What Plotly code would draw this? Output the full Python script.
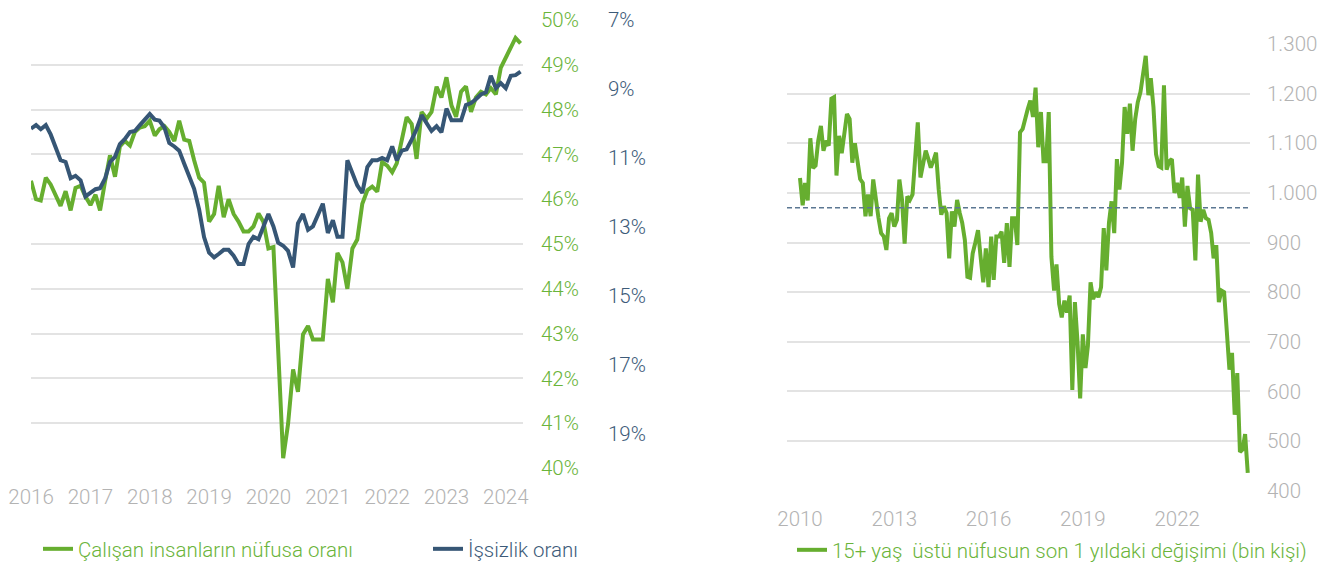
import pandas as pd
import plotly.graph_objects as go

# ---------------- data ----------------
# Left chart: monthly, 2016-01 .. 2024-04
left_months = pd.date_range("2016-01-01", periods=100, freq="MS")
employment_rate = [
    46.41, 46.0, 45.97, 46.48, 46.33, 46.1, 45.85, 46.18, 45.75, 46.25,
    46.3, 46.06, 45.87, 46.1, 45.75, 46.4, 46.98, 46.5, 47.18, 47.3,
    47.2, 47.5, 47.6, 47.63, 47.75, 47.42, 47.56, 47.63, 47.5, 47.3,
    47.75, 47.33, 47.3, 46.87, 46.48, 46.37, 45.5, 45.67, 46.3, 45.6,
    46.0, 45.67, 45.5, 45.28, 45.28, 45.39, 45.68, 45.5, 44.9, 44.93,
    42.6, 40.22, 40.98, 42.2, 41.7, 42.98, 43.17, 42.87, 42.87, 42.87,
    44.22, 43.7, 44.8, 44.59, 44.0, 44.9, 45.1, 45.9, 46.2, 46.28,
    46.17, 46.83, 46.75, 46.6, 46.8, 47.3, 47.83, 47.68, 46.9, 47.95,
    47.8, 47.95, 48.51, 48.27, 48.72, 48.09, 47.84, 48.4, 48.52, 47.95,
    48.27, 48.4, 48.34, 48.48, 48.34, 48.93, 49.15, 49.37, 49.6, 49.48,
]
unemployment_rate = [
    10.15, 10.05, 10.17, 10.05, 10.32, 10.67, 11.07, 11.12, 11.59, 11.52,
    11.65, 12.12, 12.02, 11.91, 11.88, 11.6, 11.12, 10.97, 10.6, 10.45,
    10.25, 10.22, 10.05, 9.87, 9.73, 9.89, 9.92, 10.12, 10.57, 10.67,
    10.79, 11.17, 11.52, 11.9, 12.5, 13.3, 13.75, 13.89, 13.79, 13.67,
    13.67, 13.84, 14.08, 14.08, 13.5, 13.29, 13.36, 12.99, 12.63, 12.99,
    13.46, 13.55, 13.7, 14.18, 12.9, 12.63, 13.09, 12.99, 12.63, 12.33,
    13.18, 12.81, 13.29, 13.29, 11.07, 11.47, 11.8, 12.02, 11.27, 11.07,
    11.07, 11.0, 11.07, 10.67, 11.07, 10.79, 10.75, 10.47, 10.17, 9.76,
    9.99, 10.22, 10.08, 10.26, 9.57, 9.91, 9.91, 9.91, 9.47, 9.41,
    9.3, 9.16, 9.1, 8.62, 8.98, 8.83, 8.98, 8.62, 8.6, 8.5,
]

# Right chart: monthly, 2010-01 .. 2024-04 (thousand persons)
right_months = pd.date_range("2010-01-01", periods=172, freq="MS")
pop_change = [
    1030, 975, 1020, 985, 1110, 1050, 1055, 1105, 1135, 1085,
    1105, 1095, 1190, 1193, 1035, 1115, 1080, 1120, 1159, 1149,
    1061, 1100, 1060, 1028, 1020, 953, 997, 953, 1027, 980,
    950, 919, 912, 885, 949, 959, 932, 946, 1027, 986,
    898, 993, 986, 997, 1060, 1142, 1031, 1060, 1085, 1068,
    1051, 1065, 1081, 1007, 956, 973, 959, 868, 963, 932,
    986, 959, 940, 905, 831, 829, 878, 900, 925, 871,
    820, 888, 810, 912, 825, 912, 912, 922, 859, 939,
    851, 949, 949, 895, 1122, 1129, 1150, 1169, 1186, 1153,
    1212, 1092, 1163, 1064, 1064, 1163, 871, 803, 856, 776,
    749, 783, 759, 793, 603, 780, 698, 586, 715, 647,
    692, 820, 786, 800, 790, 810, 929, 844, 940, 983,
    919, 1068, 1007, 1061, 1173, 1119, 1180, 1085, 1149, 1183,
    1203, 1237, 1276, 1197, 1231, 1173, 1078, 1054, 1051, 1217,
    1047, 1064, 1068, 1000, 1020, 990, 1031, 932, 1014, 969,
    966, 864, 1037, 942, 966, 949, 946, 919, 868, 895,
    780, 803, 800, 722, 644, 678, 553, 637, 478, 483,
    514, 436,
]
pop_change_avg = 970

name_emp = "Çalışan insanların nüfusa oranı"
name_unemp = "İşsizlik oranı"
name_pop = "15+ yaş\u00a0 üstü nüfusun son 1 yıldaki değişimi (bin kişi)"

# ---------------- style ----------------
# The page body has an 8px default margin, so the figure is sized to fit the
# 1330x562 window exactly and positions below are given in window pixels.
OFF = 8
W, H = 1330 - OFF, 562 - OFF
GREEN = "#66ae2f"
BLUE = "#365675"
GREEN_TXT = "#6ab43a"
BLUE_TXT = "#3d5b79"
GRAY_TXT = "#b3b3b3"
GRID = "#e3e3e3"
FONT = "Roboto"
TICK_SIZE = 20.5
LEG_SIZE = 20.5


def px_x(p):
    return (p - OFF) / W


def px_y(p):
    return 1 - (p - OFF) / H


fig = go.Figure()

fig.add_trace(go.Scatter(x=left_months, y=employment_rate, name=name_emp,
                         mode="lines", line=dict(color=GREEN, width=4),
                         xaxis="x", yaxis="y", legend="legend"))
fig.add_trace(go.Scatter(x=left_months, y=unemployment_rate, name=name_unemp,
                         mode="lines", line=dict(color=BLUE, width=4),
                         xaxis="x", yaxis="y2", legend="legend2"))
fig.add_trace(go.Scatter(x=right_months, y=pop_change, name=name_pop,
                         mode="lines", line=dict(color=GREEN, width=4),
                         xaxis="x2", yaxis="y3", legend="legend3"))

fig.add_shape(type="line", xref="x2 domain", yref="y3", x0=0, x1=1,
              y0=pop_change_avg, y1=pop_change_avg,
              line=dict(color="#5b7792", width=1.6, dash="5px,3px"))

tickfont_gray = dict(family=FONT, size=TICK_SIZE, color=GRAY_TXT, weight=300)

fig.update_layout(
    width=W, height=H,
    margin=dict(l=0, r=0, t=0, b=0, autoexpand=False),
    paper_bgcolor="white", plot_bgcolor="white",
    separators=",.",
    font=dict(family=FONT),
    xaxis=dict(domain=[px_x(31), px_x(523)], anchor="y", automargin=False,
               range=["2016-01-01", "2024-04-16"], type="date",
               tickformat="%Y", dtick="M12", tick0="2016-01-01",
               showgrid=False, zeroline=False, showline=False, ticks="",
               tickfont=tickfont_gray, ticklabelstandoff=14),
    yaxis=dict(domain=[px_y(468), px_y(20)], anchor="x", side="right",
               automargin=False,
               range=[40, 50], dtick=1, tick0=40, ticksuffix="%",
               showgrid=True, gridcolor=GRID, gridwidth=1.5,
               zeroline=False, showline=False, ticks="",
               tickfont=dict(family=FONT, size=TICK_SIZE, color=GREEN_TXT, weight=300),
               ticklabelstandoff=17),
    yaxis2=dict(overlaying="y", anchor="free", position=px_x(607), side="right",
                automargin=False,
                range=[20, 7], dtick=2, tick0=7, ticksuffix="%",
                showgrid=False, zeroline=False, showline=False, ticks="",
                tickfont=dict(family=FONT, size=TICK_SIZE, color=BLUE_TXT, weight=300)),
    xaxis2=dict(domain=[px_x(787), px_x(1250)], anchor="y3", automargin=False,
                range=["2009-08-03", "2024-04-27"], type="date",
                tickformat="%Y", dtick="M36", tick0="2010-01-01",
                showgrid=False, zeroline=False, showline=False, ticks="",
                tickfont=tickfont_gray, ticklabelstandoff=14),
    yaxis3=dict(domain=[px_y(490.7), px_y(44)], anchor="x2", side="right",
                automargin=False,
                range=[400, 1300], dtick=100, tick0=400, tickformat=",d",
                showgrid=True, gridcolor=GRID, gridwidth=1.5,
                zeroline=False, showline=False, ticks="",
                tickfont=tickfont_gray, ticklabelstandoff=16),
    legend=dict(x=px_x(38), y=px_y(549), xanchor="left", yanchor="middle",
                orientation="h", bgcolor="rgba(0,0,0,0)",
                font=dict(family=FONT, size=LEG_SIZE, color=GREEN_TXT, weight=300)),
    legend2=dict(x=px_x(428), y=px_y(549), xanchor="left", yanchor="middle",
                 orientation="h", bgcolor="rgba(0,0,0,0)",
                 font=dict(family=FONT, size=LEG_SIZE, color=BLUE_TXT, weight=300)),
    legend3=dict(x=px_x(792), y=px_y(550), xanchor="left", yanchor="middle",
                 orientation="h", bgcolor="rgba(0,0,0,0)",
                 font=dict(family=FONT, size=LEG_SIZE, color=GREEN_TXT, weight=300)),
    showlegend=True,
)

fig.write_html("out.html")
